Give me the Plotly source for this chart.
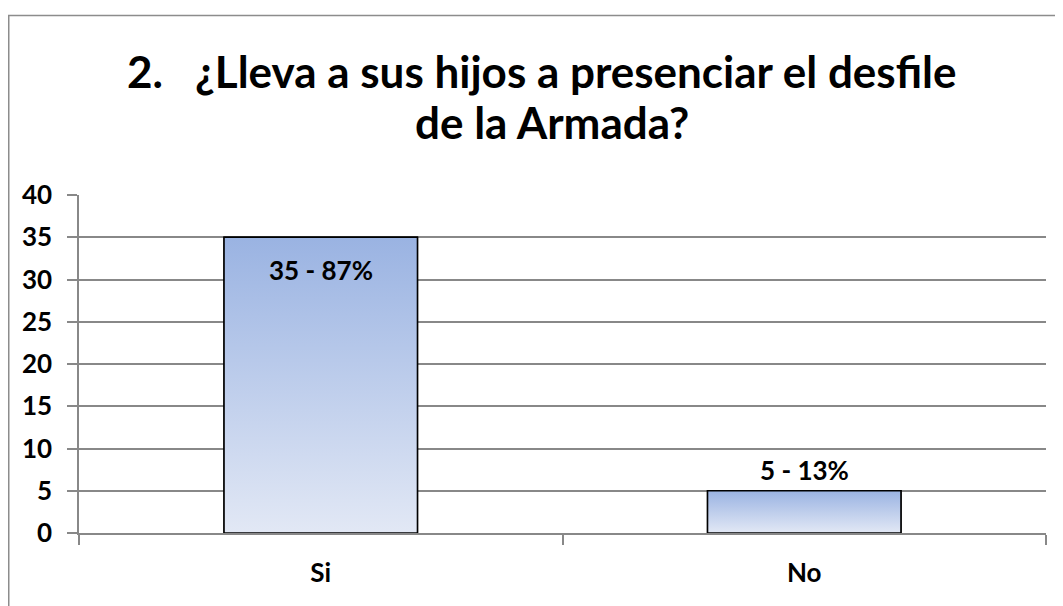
#!/usr/bin/env python3
'''Bar chart: ¿Lleva a sus hijos a presenciar el desfile de la Armada?'''

import base64

import plotly.graph_objects as go

categories = ['Si', 'No']
counts = [35, 5]
percents = [87, 13]
y_ticks = [0, 5, 10, 15, 20, 25, 30, 35, 40]

title_line1 = '2.   ¿Lleva a sus hijos a presenciar el desfile'
title_line2 = 'de la Armada?'

FONT = 'Lato'
GRID = '#888888'
TOP_BLUE = '#9ab3e2'
BOTTOM_BLUE = '#e2e8f5'
BAR_WIDTH = 0.4
# label offsets in px: first label sits inside the bar, second above it
label_shift = {'Si': -33, 'No': 21}

# plot area in figure pixels (page adds an 8px body margin)
L, T, W, H = 71, 187, 967, 338


def px(x):
    return (x - L) / W


def py(y):
    return 1 + (T - y) / H


svg = ("<svg xmlns='http://www.w3.org/2000/svg' width='10' height='100' "
       "viewBox='0 0 10 100' preserveAspectRatio='none'>"
       "<defs><linearGradient id='g' x1='0' y1='0' x2='0' y2='1'>"
       "<stop offset='0' stop-color='%s'/><stop offset='1' stop-color='%s'/>"
       "</linearGradient></defs>"
       "<rect width='10' height='100' fill='url(#g)'/></svg>") % (TOP_BLUE, BOTTOM_BLUE)
gradient = 'data:image/svg+xml;base64,' + base64.b64encode(svg.encode()).decode()

fig = go.Figure()
fig.add_trace(go.Bar(
    x=categories,
    y=counts,
    width=BAR_WIDTH,
    marker=dict(color='#bccbea', line=dict(color='black', width=1.5)),
    hoverinfo='x+y',
))

images = []
shapes = []
annotations = []
for i, (cat, val, pct) in enumerate(zip(categories, counts, percents)):
    images.append(dict(
        source=gradient, xref='x', yref='y',
        x=i, y=val, sizex=BAR_WIDTH, sizey=val,
        xanchor='center', yanchor='top',
        sizing='stretch', layer='above',
    ))
    shapes.append(dict(
        type='rect', xref='x', yref='y',
        x0=i - BAR_WIDTH / 2, x1=i + BAR_WIDTH / 2, y0=0, y1=val,
        line=dict(color='black', width=1.5), layer='above',
    ))
    annotations.append(dict(
        x=cat, y=val, xref='x', yref='y',
        text='<b>%d - %d%%</b>' % (val, pct),
        showarrow=False, yshift=label_shift[cat],
        font=dict(family=FONT, size=26, color='black'),
    ))

# title, two centred lines
for text, cx, cy in [(title_line1, 534, 63), (title_line2, 544, 114)]:
    annotations.append(dict(
        x=px(cx), y=py(cy), xref='paper', yref='paper',
        xanchor='center', yanchor='middle',
        text='<b>%s</b>' % text, showarrow=False,
        font=dict(family=FONT, size=44, color='black'),
    ))

# outer chart border
shapes.append(dict(
    type='rect', xref='paper', yref='paper',
    x0=px(0.75), x1=1.2, y0=-0.5, y1=py(7.5),
    line=dict(color='#8c8c8c', width=1.5), layer='below',
))

fig.update_layout(
    width=1063, height=606,
    margin=dict(l=L, r=1063 - L - W, t=T, b=606 - T - H),
    paper_bgcolor='white', plot_bgcolor='white',
    showlegend=False,
    font=dict(family=FONT, color='black'),
    images=images, shapes=shapes, annotations=annotations,
)
fig.update_xaxes(
    type='category', range=[-0.5, 1.5],
    showline=True, linecolor=GRID, linewidth=1.5,
    ticks='outside', tickson='boundaries', ticklen=10, tickwidth=1.5, tickcolor=GRID,
    showgrid=False, ticklabelstandoff=16,
    tickfont=dict(family=FONT, size=26, color='black', weight='bold'),
)
fig.update_yaxes(
    range=[0, 40], tickvals=y_ticks,
    showline=True, linecolor=GRID, linewidth=1.5,
    ticks='outside', ticklen=10, tickwidth=1.5, tickcolor=GRID,
    showgrid=True, gridcolor=GRID, gridwidth=1.5, zeroline=False,
    ticklabelstandoff=10,
    tickfont=dict(family=FONT, size=26, color='black', weight='bold'),
)

fig.write_html('out.html')
